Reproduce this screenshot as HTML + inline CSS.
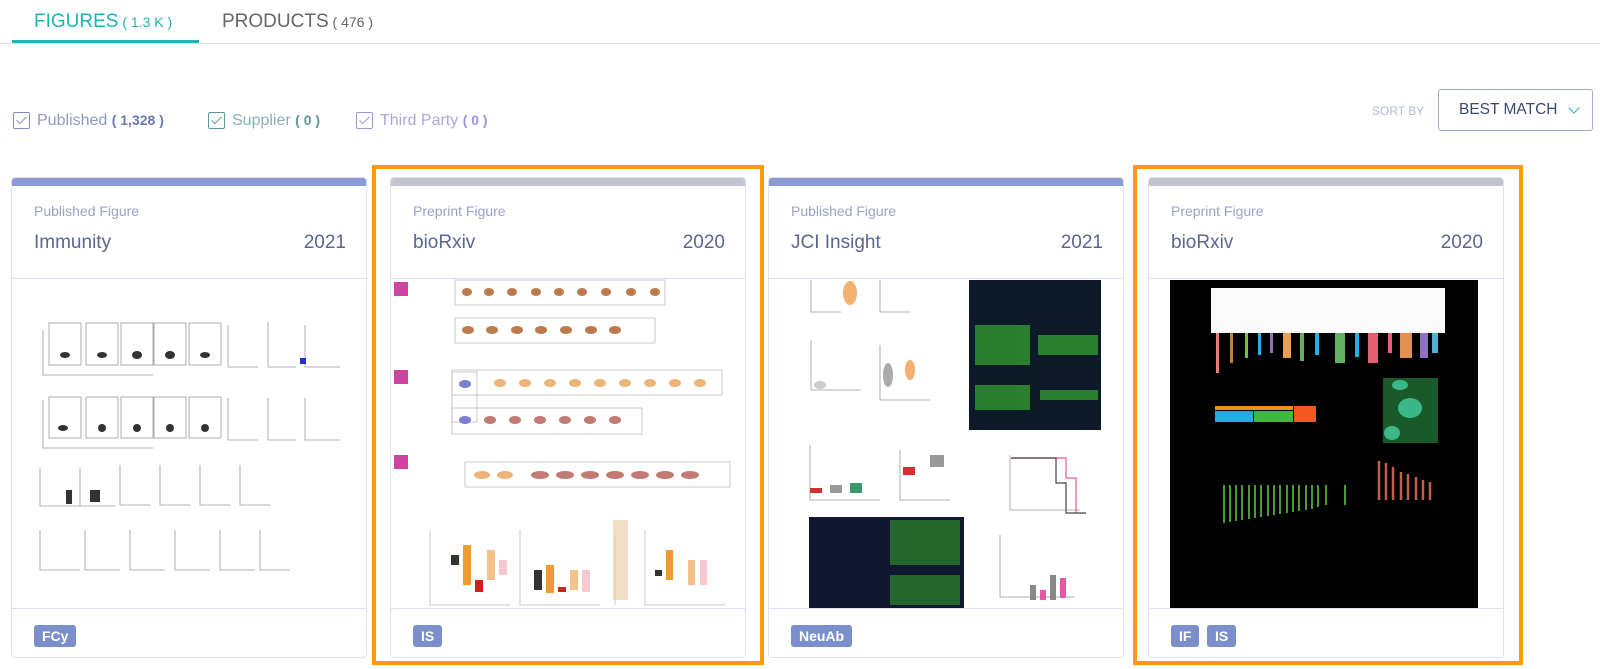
<!DOCTYPE html>
<html><head><meta charset="utf-8"><style>
*{margin:0;padding:0;box-sizing:border-box}
body{width:1600px;height:669px;overflow:hidden;background:#fff;font-family:"Liberation Sans",sans-serif;position:relative}
.a{position:absolute}
.card{position:absolute;top:177px;width:356px;height:481px;border:1px solid #dde1ef;border-radius:4px;background:#fff;overflow:hidden}
.bar{position:absolute;left:0;top:0;right:0;height:8px}
.sub{position:absolute;left:22px;top:25px;font-size:14px;color:#9aa3c6}
.ttl{position:absolute;left:22px;top:54px;font-size:19px;color:#5d6590}
.yr{position:absolute;right:20px;top:54px;font-size:19px;color:#5d6590}
.hl{position:absolute;left:0;right:0;top:100px;height:1px;background:#dde1ef}
.fl{position:absolute;left:0;right:0;top:430px;height:1px;background:#dde1ef}
.tag{position:absolute;top:447px;height:22px;padding:0 8px;background:#7b8fcc;color:#fff;font-size:14px;font-weight:bold;line-height:22px;border-radius:3px}
.ob{position:absolute;border:4.5px solid #ff9a0a}
.cb{display:inline-block;width:17px;height:17px;border:1.5px solid;border-radius:2px;vertical-align:middle;position:relative;margin-right:7px}
.cb:after{content:"";position:absolute;left:5px;top:1px;width:4px;height:9px;border-right:1.5px solid;border-bottom:1.5px solid;transform:rotate(45deg);border-color:inherit}
</style></head><body>
<div class="a" style="left:34px;top:11px;font-size:19px;color:#1bb5b0">FIGURES<span style="font-size:14px"> ( 1.3 K )</span></div>
<div class="a" style="left:222px;top:11px;font-size:19px;color:#666">PRODUCTS<span style="font-size:14px"> ( 476 )</span></div>
<div class="a" style="left:0;top:43px;width:1600px;height:1px;background:#dfe2ee"></div>
<div class="a" style="left:12px;top:40px;width:187px;height:3px;background:#1bb5b0"></div>

<div class="a" style="left:13px;top:112px;font-size:16px;color:#8e99c4"><span class="cb" style="border-color:#7e8cc0"></span>Published <b style="color:#6a78b0;font-size:14px">( 1,328 )</b></div>
<div class="a" style="left:208px;top:112px;font-size:16px;color:#8ab0b9"><span class="cb" style="border-color:#5f979f"></span>Supplier <b style="color:#5f979f;font-size:14px">( 0 )</b></div>
<div class="a" style="left:356px;top:112px;font-size:16px;color:#aaa9dc"><span class="cb" style="border-color:#9a98d8"></span>Third Party <b style="color:#9a98d8;font-size:14px">( 0 )</b></div>

<div class="a" style="left:1372px;top:104px;font-size:12px;color:#b5bbd6">SORT BY</div>
<div class="a" style="left:1438px;top:89px;width:155px;height:42px;border:1.5px solid #9ea8cf;border-radius:3px"></div>
<div class="a" style="left:1459px;top:101px;font-size:15.5px;color:#3d4777">BEST MATCH</div>
<div class="a" style="left:1570px;top:104px;width:8px;height:8px;border-right:1.5px solid #1bb5b0;border-bottom:1.5px solid #1bb5b0;transform:rotate(45deg)"></div>

<div class="ob" style="left:372px;top:165px;width:392px;height:500px"></div>
<div class="ob" style="left:1133px;top:165px;width:390px;height:500px"></div>

<div class="card" style="left:11px"><div class="bar" style="background:#8c9bd6"></div><div class="sub">Published Figure</div><div class="ttl">Immunity</div><div class="yr">2021</div><div class="hl"></div><div class="fl"></div><div class="tag" style="left:22px">FCy</div></div>
<div class="card" style="left:390px"><div class="bar" style="background:#c1c4cc"></div><div class="sub">Preprint Figure</div><div class="ttl">bioRxiv</div><div class="yr">2020</div><div class="hl"></div><div class="fl"></div><div class="tag" style="left:22px">IS</div></div>
<div class="card" style="left:768px"><div class="bar" style="background:#8c9bd6"></div><div class="sub">Published Figure</div><div class="ttl">JCI Insight</div><div class="yr">2021</div><div class="hl"></div><div class="fl"></div><div class="tag" style="left:22px">NeuAb</div></div>
<div class="card" style="left:1148px"><div class="bar" style="background:#c1c4cc"></div><div class="sub">Preprint Figure</div><div class="ttl">bioRxiv</div><div class="yr">2020</div><div class="hl"></div><div class="fl"></div><div class="tag" style="left:22px">IF</div><div class="tag" style="left:58px">IS</div></div>

<svg class="a" style="left:0;top:0" width="1600" height="669" viewBox="0 0 1600 669">
<!-- card1 -->
<g fill="none" stroke="#999" stroke-width="0.8">
<rect x="49" y="323" width="32" height="42"/><rect x="86" y="323" width="32" height="42"/><rect x="121" y="323" width="32" height="42"/><rect x="154" y="323" width="32" height="42"/><rect x="189" y="323" width="32" height="42"/>
<rect x="49" y="397" width="32" height="41"/><rect x="86" y="397" width="32" height="41"/><rect x="121" y="397" width="32" height="41"/><rect x="154" y="397" width="32" height="41"/><rect x="189" y="397" width="32" height="41"/>
<path d="M43 330v45h110M43 400v48h110M228 325v42h30M268 322v45h28M305 325v42h35M228 398v42h30M268 398v42h28M305 398v42h35M40 468v38h40M80 468v38h35M120 465v40h30M160 465v40h30M200 465v40h30M240 465v40h30M40 530v40h40M85 530v40h35M130 530v40h35M175 530v40h35M220 530v40h35M260 530v40h30"/>
</g>
<g fill="#333"><ellipse cx="65" cy="355" rx="5" ry="3"/><ellipse cx="102" cy="355" rx="5" ry="3"/><ellipse cx="137" cy="355" rx="5" ry="4"/><ellipse cx="170" cy="355" rx="5" ry="4"/><ellipse cx="205" cy="355" rx="5" ry="3"/>
<ellipse cx="63" cy="428" rx="5" ry="3"/><ellipse cx="102" cy="428" rx="4" ry="4"/><ellipse cx="137" cy="428" rx="4" ry="4"/><ellipse cx="170" cy="428" rx="4" ry="4"/><ellipse cx="205" cy="428" rx="4" ry="4"/>
<rect x="66" y="490" width="6" height="14"/><rect x="90" y="490" width="10" height="12"/><rect x="300" y="358" width="6" height="6" fill="#2230d0"/></g>
<!-- card2 -->
<g fill="none" stroke="#bbb" stroke-width="0.8">
<rect x="455" y="280" width="210" height="25"/><rect x="455" y="318" width="200" height="25"/><rect x="452" y="370" width="270" height="25"/><rect x="452" y="408" width="190" height="26"/><rect x="465" y="462" width="265" height="25"/><rect x="452" y="372" width="25" height="50"/>
<path d="M430 530v75h80M520 530v75h80M615 535v70M645 530v75h80"/></g>
<g fill="#b2652f" opacity="0.85">
<ellipse cx="467" cy="292" rx="5" ry="4"/><ellipse cx="489" cy="292" rx="5" ry="4"/><ellipse cx="512" cy="292" rx="5" ry="4"/><ellipse cx="536" cy="292" rx="5" ry="4"/><ellipse cx="559" cy="292" rx="5" ry="4"/><ellipse cx="582" cy="292" rx="5" ry="4"/><ellipse cx="606" cy="292" rx="5" ry="4"/><ellipse cx="631" cy="292" rx="5" ry="4"/><ellipse cx="655" cy="292" rx="5" ry="4"/>
<ellipse cx="468" cy="330" rx="6" ry="4"/><ellipse cx="492" cy="330" rx="6" ry="4"/><ellipse cx="517" cy="330" rx="6" ry="4"/><ellipse cx="541" cy="330" rx="6" ry="4"/><ellipse cx="566" cy="330" rx="6" ry="4"/><ellipse cx="591" cy="330" rx="6" ry="4"/><ellipse cx="615" cy="330" rx="6" ry="4"/>
</g>
<g fill="#e9a25a" opacity="0.8"><ellipse cx="500" cy="383" rx="6" ry="4"/><ellipse cx="525" cy="383" rx="6" ry="4"/><ellipse cx="550" cy="383" rx="6" ry="4"/><ellipse cx="575" cy="383" rx="6" ry="4"/><ellipse cx="600" cy="383" rx="6" ry="4"/><ellipse cx="625" cy="383" rx="6" ry="4"/><ellipse cx="650" cy="383" rx="6" ry="4"/><ellipse cx="675" cy="383" rx="6" ry="4"/><ellipse cx="700" cy="383" rx="6" ry="4"/><ellipse cx="482" cy="475" rx="8" ry="4"/><ellipse cx="505" cy="475" rx="8" ry="4"/></g>
<g fill="#a9423a" opacity="0.7"><ellipse cx="490" cy="420" rx="6" ry="4"/><ellipse cx="515" cy="420" rx="6" ry="4"/><ellipse cx="540" cy="420" rx="6" ry="4"/><ellipse cx="565" cy="420" rx="6" ry="4"/><ellipse cx="590" cy="420" rx="6" ry="4"/><ellipse cx="615" cy="420" rx="6" ry="4"/><ellipse cx="540" cy="475" rx="9" ry="4"/><ellipse cx="565" cy="475" rx="9" ry="4"/><ellipse cx="590" cy="475" rx="9" ry="4"/><ellipse cx="615" cy="475" rx="9" ry="4"/><ellipse cx="640" cy="475" rx="9" ry="4"/><ellipse cx="665" cy="475" rx="9" ry="4"/><ellipse cx="690" cy="475" rx="9" ry="4"/></g>
<g fill="#7a7fcf"><ellipse cx="465" cy="420" rx="6" ry="4"/><ellipse cx="465" cy="384" rx="6" ry="4"/><rect x="394" y="282" width="14" height="14" fill="#d044a0"/><rect x="394" y="370" width="14" height="14" fill="#d044a0"/><rect x="394" y="455" width="14" height="14" fill="#d044a0"/></g>
<g><rect x="451" y="555" width="8" height="10" fill="#333"/><rect x="463" y="545" width="8" height="40" fill="#f09a30"/><rect x="475" y="580" width="8" height="12" fill="#d02020"/><rect x="487" y="550" width="8" height="30" fill="#f5c08a"/><rect x="499" y="560" width="8" height="15" fill="#f8c8d0"/>
<rect x="534" y="570" width="8" height="20" fill="#333"/><rect x="546" y="565" width="8" height="28" fill="#f09a30"/><rect x="558" y="587" width="8" height="5" fill="#d02020"/><rect x="570" y="570" width="8" height="20" fill="#f5c08a"/><rect x="582" y="570" width="8" height="22" fill="#f8c8d0"/>
<rect x="613" y="520" width="15" height="80" fill="#e9c9a0" opacity="0.6"/><rect x="655" y="570" width="7" height="6" fill="#333"/><rect x="666" y="550" width="7" height="30" fill="#f09a30"/><rect x="688" y="560" width="7" height="25" fill="#f5c08a"/><rect x="700" y="560" width="7" height="25" fill="#f8c8d0"/></g>
<!-- card3 -->
<g><rect x="969" y="280" width="132" height="150" fill="#0d1a2a"/><g fill="#2f8a2f" opacity="0.9"><rect x="975" y="325" width="55" height="40"/><rect x="1038" y="335" width="60" height="20"/><rect x="975" y="385" width="55" height="25"/><rect x="1040" y="390" width="58" height="10"/></g>
<rect x="809" y="517" width="155" height="91" fill="#0f1830"/><g fill="#2a7a2a" opacity="0.8"><rect x="890" y="520" width="70" height="45"/><rect x="890" y="575" width="70" height="30"/></g></g>
<g fill="none" stroke="#999" stroke-width="0.8"><path d="M811 280v32h30M880 280v32h30M811 340v50h50M880 345v55h50M810 445v55h70M900 450v50h50M1010 455v55h70M1000 535v62h75"/></g>
<g><path d="M1011 458h55v20h10v35" fill="none" stroke="#e05aa8" stroke-width="1.2"/><path d="M1011 458h45v25h10v30h20" fill="none" stroke="#444" stroke-width="1.2"/>
<ellipse cx="850" cy="293" rx="7" ry="12" fill="#f5b070"/><ellipse cx="888" cy="375" rx="5" ry="12" fill="#aaa"/><ellipse cx="910" cy="370" rx="5" ry="10" fill="#f5b070"/><ellipse cx="820" cy="385" rx="6" ry="4" fill="#ccc"/>
<rect x="810" y="488" width="12" height="5" fill="#d03030"/><rect x="830" y="485" width="12" height="8" fill="#999"/><rect x="850" y="483" width="12" height="10" fill="#3a9a6a"/><rect x="903" y="467" width="12" height="8" fill="#d03030"/><rect x="930" y="455" width="14" height="12" fill="#999"/>
<rect x="1030" y="585" width="6" height="15" fill="#888"/><rect x="1040" y="590" width="6" height="10" fill="#e05aa8"/><rect x="1050" y="575" width="6" height="25" fill="#888"/><rect x="1060" y="578" width="6" height="20" fill="#e05aa8"/></g>
<!-- card4 -->
<rect x="1170" y="280" width="308" height="328" fill="#000"/>
<rect x="1211" y="288" width="234" height="45" fill="#fafafa"/>
<g fill="#e77"><rect x="1216" y="333" width="3" height="40"/><rect x="1283" y="333" width="8" height="25" fill="#e9a050"/><rect x="1335" y="333" width="10" height="30" fill="#60b060"/><rect x="1368" y="333" width="10" height="30" fill="#e06070"/><rect x="1400" y="333" width="12" height="25" fill="#e09050"/><rect x="1420" y="333" width="8" height="25" fill="#9070c0"/></g>
<g><rect x="1230" y="333" width="3" height="30" fill="#c08030"/><rect x="1245" y="333" width="3" height="25" fill="#70c050"/><rect x="1258" y="333" width="3" height="22" fill="#2ab0e0"/><rect x="1270" y="333" width="3" height="20" fill="#9070c0"/><rect x="1300" y="333" width="4" height="28" fill="#60b060"/><rect x="1315" y="333" width="4" height="22" fill="#2ab0e0"/><rect x="1355" y="333" width="4" height="24" fill="#2ab0e0"/><rect x="1388" y="333" width="4" height="20" fill="#e06080"/><rect x="1432" y="333" width="6" height="20" fill="#50b0d0"/></g>
<rect x="1215" y="406" width="78" height="4" fill="#f0901a"/><rect x="1215" y="411" width="38" height="11" fill="#2aa8e0"/><rect x="1254" y="411" width="39" height="11" fill="#40b840"/><rect x="1294" y="406" width="22" height="16" fill="#f05a20"/>
<rect x="1383" y="378" width="55" height="65" fill="#1a5a2a"/><ellipse cx="1410" cy="408" rx="12" ry="10" fill="#3ab88a"/><ellipse cx="1392" cy="433" rx="8" ry="7" fill="#3ab88a"/><ellipse cx="1400" cy="385" rx="8" ry="5" fill="#3ab88a"/>
<g stroke="#4a9a30" stroke-width="2"><path d="M1224 485v38M1230 485v37M1236 485v36M1242 485v35M1249 485v34M1255 485v33M1261 485v32M1268 485v31M1274 485v30M1280 485v29M1287 485v28M1293 485v27M1299 485v26M1306 485v25M1312 485v24M1318 485v22M1326 485v20M1345 485v20"/></g>
<g stroke="#c0604a" stroke-width="2.5"><path d="M1379 461v39M1386 463v37M1393 467v33M1401 472v28M1408 474v26M1416 477v23M1423 480v20M1430 482v18"/></g>
</svg>
</body></html>
